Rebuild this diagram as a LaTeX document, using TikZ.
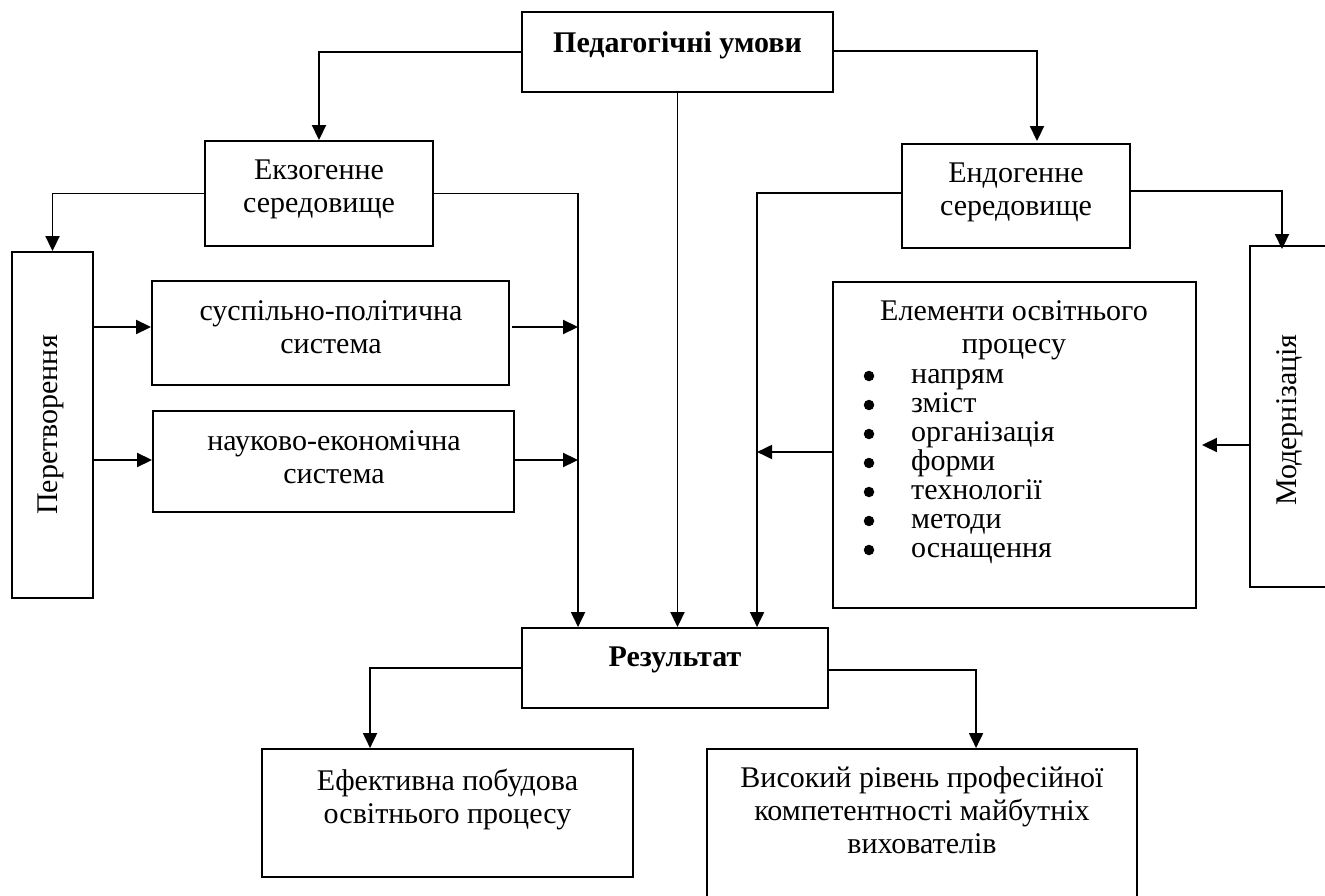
\documentclass[tikz,border=0pt]{standalone}
\usepackage{fontspec}
\setmainfont{Liberation Serif}
\usetikzlibrary{arrows.meta,calc}
\begin{document}
\begin{tikzpicture}[x=1pt,y=-1pt,
  box/.style={draw, line width=1.9pt, rectangle, inner sep=0pt},
  conn/.style={line width=1.9pt},
  arr/.style={conn, -{Triangle[length=15pt,width=14pt]}},
  txt/.style={font=\fontsize{30}{33}\selectfont, align=center, inner sep=0pt},
  btxt/.style={txt, font=\fontsize{30}{33}\selectfont\bfseries},
  bullet/.style={circle, fill, inner sep=0pt, minimum size=10.5pt},
]
\useasboundingbox (0,0) rectangle (1325,896);
\clip (0,0) rectangle (1325,896);

% boxes
\node[box, minimum width=311pt, minimum height=80pt] (P) at (677.5,52) {};
\node[btxt] (Pt) at (677.5,45) {Педагогічні умови};

\node[box, minimum width=228pt, minimum height=105pt] (Ex) at (319,193.5) {};
\node[txt] (Ext) at (319,189.5) {Екзогенне\\середовище};

\node[box, minimum width=228pt, minimum height=104pt] (En) at (1016,196) {};
\node[txt] (Ent) at (1016,192) {Ендогенне\\середовище};

\node[box, minimum width=81pt, minimum height=346pt] (Per) at (52.5,425) {};
\node[txt, rotate=90] (Pert) at (51,425) {Перетворення};

\node[box, minimum width=357pt, minimum height=104pt] (S1) at (330.5,333) {};
\node[txt] (S1t) at (331,327.5) {суспільно-політична\\система};

\node[box, minimum width=361pt, minimum height=101pt] (S2) at (333.5,461.5) {};
\node[txt] (S2t) at (334,457.5) {науково-економічна\\система};

\node[box, minimum width=363pt, minimum height=326pt] (El) at (1014.5,445) {};
\node[txt] (Elt) at (1014,330) {Елементи освітнього\\процесу};
\foreach \w [count=\i from 0] in {напрям,зміст,організація,форми,технології,методи,оснащення}{
  \node[bullet] (b\i) at (869, 376+29*\i) {};
  \node[txt, anchor=base west] (it\i) at (911, 383+29*\i) {\w};
}

\node[box, minimum width=80pt, minimum height=341pt] (Mod) at (1290,416.5) {};
\node[txt, rotate=90] (Modt) at (1290,420) {Модернізація};

\node[box, minimum width=306pt, minimum height=80pt] (R) at (675,668) {};
\node[btxt] (Rt) at (675,660) {Результат};

\node[box, minimum width=371pt, minimum height=128pt] (E1) at (447.5,813) {};
\node[txt] (E1t) at (447.5,799) {Ефективна побудова\\освітнього процесу};

\node[box, minimum width=430pt, minimum height=170pt] (E2) at (922,834) {};
\node[txt] (E2t) at (922,810.5) {Високий рівень професійної\\компетентності майбутніх\\вихователів};

% helper coordinates
\coordinate (busL) at ($(R.north west)+(57,0)$);
\coordinate (busR) at ($(R.north west)+(236,0)$);
\coordinate (s1a) at ($(S1.west)+(0,-6)$);
\coordinate (s1b) at ($(S1.east)+(2,-6)$);
\coordinate (s2a) at ($(S2.west)+(0,-1.5)$);
\coordinate (s2b) at ($(S2.east)+(0,-1.5)$);
\coordinate (enl) at ($(En.west)+(0,-3)$);
\coordinate (enr) at ($(En.east)+(0,-5)$);
\coordinate (entop) at ($(En.north)+(21,-2)$);
\coordinate (pr) at ($(P.east)+(0,-1)$);
\coordinate (modtop) at ($(Mod.north)+(-8,4)$);
\coordinate (ela) at ($(El.west)+(0,7)$);
\coordinate (moda) at ($(Mod.west)+(0,28.5)$);
\coordinate (elb) at ($(El.east)+(5,0)$);
\coordinate (rr) at ($(R.east)+(0,2)$);

% connectors
\draw[arr] (P.west) -| (Ex.north);
\draw[arr] (pr) -| (entop);
\draw[arr] (P.south) -- (P.south |- R.north);
\draw[arr] (Ex.west) -| (Per.north);
\draw[arr] (Ex.east) -| (busL);
\draw[arr] (Per.east |- s1a) -- (s1a);
\draw[arr] (s1b) -- (s1b -| busL);
\draw[arr] (Per.east |- s2a) -- (s2a);
\draw[arr] (s2b) -- (s2b -| busL);
\draw[arr] (enl) -| (busR);
\draw[arr] (ela) -- (ela -| busR);
\draw[arr] (enr) -| (modtop);
\draw[arr] (moda) -- (moda -| elb);
\draw[arr] (R.west) -| ($(E1.north west)+(109,0)$);
\draw[arr] (rr) -| ($(E2.north west)+(270,0)$);
\end{tikzpicture}
\end{document}
